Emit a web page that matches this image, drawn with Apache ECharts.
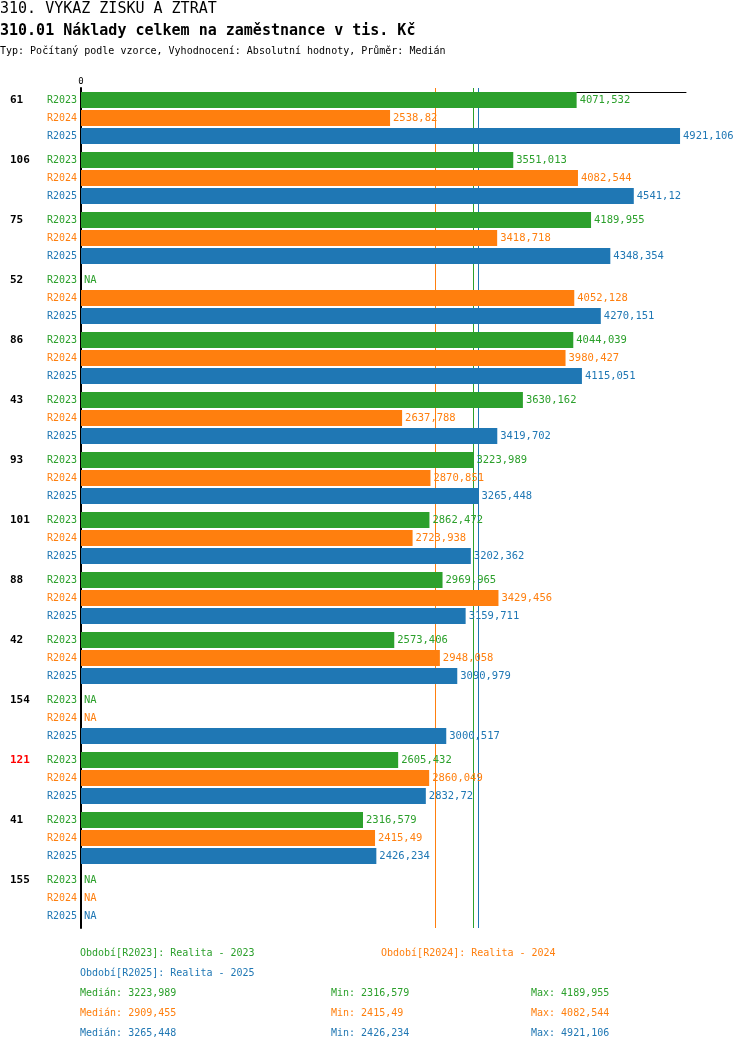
<!DOCTYPE html>
<html><head><meta charset="utf-8">
<script src="https://cdn.jsdelivr.net/npm/echarts@6/dist/echarts.min.js"></script>
<style>html,body{margin:0;padding:0;background:#fff}#c{width:750px;height:1052px}</style>
</head><body><div id="c"></div>
<script>
const groups = ['61','106','75','52','86','43','93','101','88','42','154','121','41','155'];
const highlighted = ['121'];
const seriesNames = ['R2023','R2024','R2025'];
const periodLabels = ['Období[R2023]: Realita - 2023','Období[R2024]: Realita - 2024','Období[R2025]: Realita - 2025'];
const r2023 = [4071.532,3551.013,4189.955,null,4044.039,3630.162,3223.989,2862.472,2969.965,2573.406,null,2605.432,2316.579,null];
const r2024 = [2538.82,4082.544,3418.718,4052.128,3980.427,2637.788,2870.851,2723.938,3429.456,2948.058,null,2860.049,2415.49,null];
const r2025 = [4921.106,4541.12,4348.354,4270.151,4115.051,3419.702,3265.448,3202.362,3159.711,3090.979,3000.517,2832.72,2426.234,null];
const medians = [3223.989,2909.455,3265.448];
const mins = [2316.579,2415.49,2426.234];
const maxs = [4189.955,4082.544,4921.106];
const axisMax = 4970;

const colors = ['#2ca02c','#ff7f0e','#1f77b4'];
const FONT = 'DejaVu Sans Mono';
const fmt = v => String(v).replace('.', ',');
const values = [r2023, r2024, r2025];

const series = values.map((vals, i) => ({
  type: 'bar', name: seriesNames[i], barWidth: 16, barGap: '12.5%', z: 3,
  data: vals.map(v => v == null ? {value: 0, na: true} : {value: v}),
  itemStyle: {color: colors[i]},
  label: {show: true, position: 'right', distance: 3, color: colors[i], fontFamily: FONT, fontSize: 10.5,
    formatter: p => p.data.na ? 'NA' : fmt(p.value)},
  markLine: {silent: true, symbol: 'none', z: 1, animation: false, label: {show: false},
    lineStyle: {color: colors[i], width: 1, type: 'solid', opacity: 1},
    emphasis: {disabled: true},
    data: [{xAxis: medians[i], lineStyle: {color: colors[i]}}]}
}));

const txt = (text, left, top, size, color, weight) => ({
  text, left, top, padding: 0,
  textStyle: {fontFamily: FONT, fontSize: size, color, fontWeight: weight || 'normal'}
});
const titles = [
  txt('310. VÝKAZ ZISKU A ZTRÁT', 0, 2, 15, '#000'),
  txt('310.01 Náklady celkem na zaměstnance v tis. Kč', 0, 24, 15, '#000', 'bold'),
  txt('Typ: Počítaný podle vzorce, Vyhodnocení: Absolutní hodnoty, Průměr: Medián', 0, 46, 10, '#000'),
  txt(periodLabels[0], 80, 948, 10, colors[0]),
  txt(periodLabels[1], 381, 948, 10, colors[1]),
  txt(periodLabels[2], 80, 968, 10, colors[2])
];
for (let i = 0; i < 3; i++) {
  titles.push(txt('Medián: ' + fmt(medians[i]), 80, 988 + 20 * i, 10, colors[i]));
  titles.push(txt('Min: ' + fmt(mins[i]), 331, 988 + 20 * i, 10, colors[i]));
  titles.push(txt('Max: ' + fmt(maxs[i]), 531, 988 + 20 * i, 10, colors[i]));
}

const chart = echarts.init(document.getElementById('c'));
chart.setOption({
  animation: false,
  title: titles,
  grid: {left: 81, right: 64, top: 88, height: 840, containLabel: false},
  xAxis: {
    type: 'value', position: 'top', min: 0, max: axisMax, offset: -4,
    axisLine: {show: true, lineStyle: {color: '#000', width: 1}},
    axisTick: {show: false}, splitLine: {show: false},
    axisLabel: {margin: 6, fontFamily: FONT, fontSize: 9, color: '#000',
      formatter: v => v === 0 ? '0' : ''}
  },
  yAxis: [{
    type: 'category', inverse: true, data: groups, position: 'left',
    axisLine: {show: true, lineStyle: {color: '#000', width: 2}},
    axisTick: {show: false},
    axisLabel: {margin: 4, align: 'right',
      formatter: () => seriesNames.map((n, i) => '{s' + i + '|' + n + '}').join('\n'),
      rich: {
        s0: {color: colors[0], fontFamily: FONT, fontSize: 10, lineHeight: 18},
        s1: {color: colors[1], fontFamily: FONT, fontSize: 10, lineHeight: 18},
        s2: {color: colors[2], fontFamily: FONT, fontSize: 10, lineHeight: 18}
      }}
  }, {
    type: 'category', inverse: true, data: groups, position: 'left',
    axisLine: {show: false}, axisTick: {show: false},
    axisLabel: {margin: 71, align: 'left',
      formatter: v => '{' + (highlighted.includes(v) ? 'r' : 'n') + '|' + v + '}\n{e| }\n{e| }',
      rich: {
        n: {color: '#000', fontFamily: FONT, fontSize: 11, fontWeight: 'bold', lineHeight: 18},
        r: {color: '#ff0000', fontFamily: FONT, fontSize: 11, fontWeight: 'bold', lineHeight: 18},
        e: {fontFamily: FONT, fontSize: 11, lineHeight: 18}
      }}
  }],
  series
});
</script></body></html>
